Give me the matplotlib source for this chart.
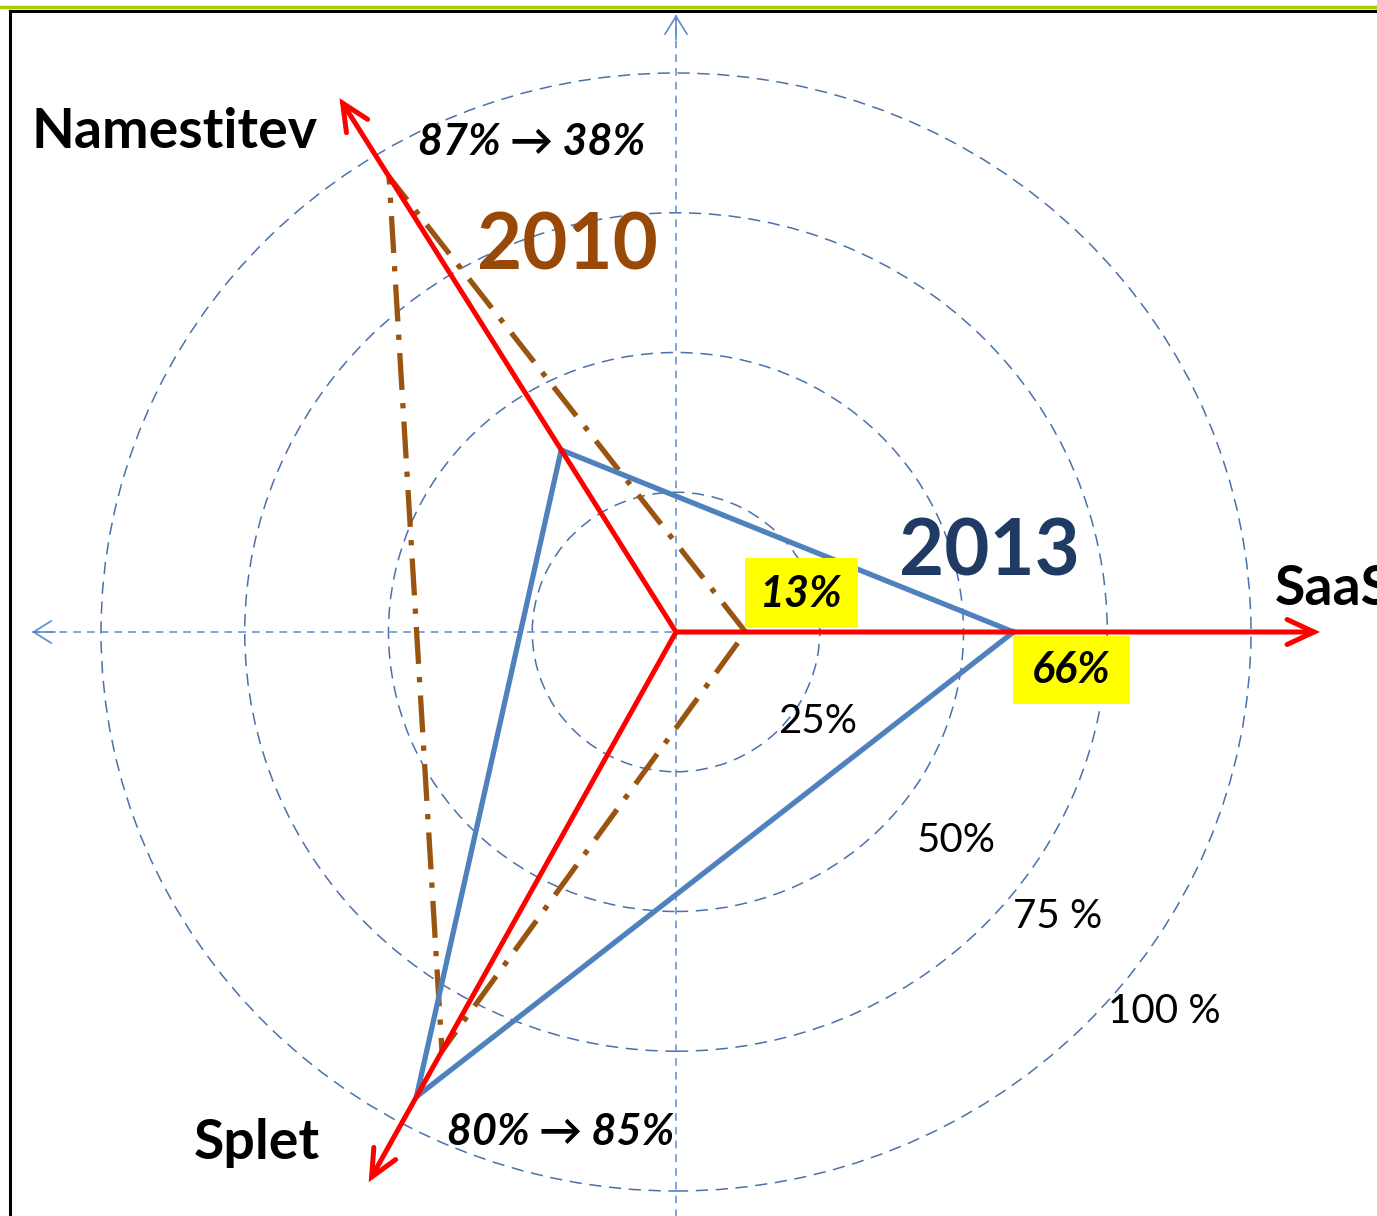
import numpy as np
import matplotlib.pyplot as plt
from matplotlib.patches import Circle, Rectangle, FancyArrowPatch
from matplotlib.lines import Line2D
from matplotlib.transforms import Affine2D

# Podatki
axis_names = ["SaaS", "Namestitev", "Splet"]
axis_angles = [0, 121.5, 241.5]        # stopinje
axis_length = 112                     # v % (konec rdece puscice)
ring_values = [25, 50, 75, 100]
ring_labels = ["25%", "50%", "75 %", "100 %"]
values_2010 = [12.1, 95.5, 85.3]      # SaaS, Namestitev, Splet
values_2013 = [58.7, 38.2, 94.6]
change_labels = ["87% \u2192 38%", "80% \u2192 85%"]
saas_labels = ["13%", "66%"]

W, H = 1377, 1216
fig = plt.figure(figsize=(W / 100, H / 100), dpi=100)
ax = fig.add_axes([0, 0, 1, 1])
# 1 % = 5.75 px vodoravno, 5.59 px navpicno, sredisce na (676, 632)
ax.set_xlim(-676 / 5.75, (W - 676) / 5.75)
ax.set_ylim(-(H - 632) / 5.59, 632 / 5.59)
ax.axis("off")

# pretvorba iz pikslov (od zgoraj levo)
pix = Affine2D().scale(1 / 100, -1 / 100).translate(0, H / 100) + fig.dpi_scale_trans

fnt = ["Lato", "DejaVu Sans"]


def polar(r, a):
    a = np.radians(a)
    return r * np.cos(a), r * np.sin(a)


# okvir
fig.add_artist(Line2D([0, W], [7, 7], transform=pix, color="#a8cc00", lw=2.5))
fig.add_artist(Line2D([10, W], [11, 11], transform=pix, color="black", lw=2.2))
fig.add_artist(Line2D([10, 10], [11, H], transform=pix, color="black", lw=2.2))

# krogi
for r in ring_values:
    ax.add_patch(Circle((0, 0), r, fill=False, ec="#4a72a8", lw=1.1,
                        ls=(0, (8, 5)), zorder=1))

# modre crtkane osi
ac = "#5b8bd0"
ax.plot([-112, 112], [0, 0], color=ac, lw=1.1, ls=(0, (5, 4)), zorder=1)
ax.plot([0, 0], [-112, 110.4], color=ac, lw=1.1, ls=(0, (5, 4)), zorder=1)
for tip, tail in [((-112, 0), (-108, 0)), ((0, 110.4), (0, 106))]:
    ax.annotate("", xy=tip, xytext=tail,
                arrowprops=dict(arrowstyle="->,head_length=0.8,head_width=0.5",
                                color=ac, lw=1.2, mutation_scale=16,
                                shrinkA=0, shrinkB=0), zorder=1)

# 2010 (crta-pika)
pts = [polar(v, a) for v, a in zip(values_2010, axis_angles)]
pts.append(pts[0])
ax.plot([p[0] for p in pts], [p[1] for p in pts], color="#99540f", lw=3.8,
        ls=(0, (7, 2.5, 1, 2.5)), solid_joinstyle="miter", zorder=2)

# 2013
pts = [polar(v, a) for v, a in zip(values_2013, axis_angles)]
pts.append(pts[0])
ax.plot([p[0] for p in pts], [p[1] for p in pts], color="#4f81bd", lw=3.8,
        solid_joinstyle="miter", zorder=3)

# rdece osi
for a in axis_angles:
    ax.add_patch(FancyArrowPatch((0, 0), polar(axis_length, a),
                                 arrowstyle="->,head_length=0.97,head_width=0.45",
                                 mutation_scale=20, color="red", lw=3.6,
                                 shrinkA=0, shrinkB=0, joinstyle="miter",
                                 capstyle="round", zorder=4))

# imena osi
big = dict(fontsize=40, fontweight="bold", color="black", family=fnt,
           transform=pix, zorder=6)
ax.text(174, 148, axis_names[1], ha="center", va="baseline", **big)
ax.text(1275, 605, axis_names[0], ha="left", va="baseline", **big)
ax.text(257, 1159, axis_names[2], ha="center", va="baseline", **big)

# leti
ax.text(567, 270, "2010", ha="center", va="baseline", fontsize=56,
        fontweight="bold", color="#984807", family=fnt, transform=pix, zorder=6)
ax.text(989, 575, "2013", ha="center", va="baseline", fontsize=56,
        fontweight="bold", color="#1f3b63", family=fnt, transform=pix, zorder=6)

# spremembe
it = dict(fontsize=31, fontweight="bold", fontstyle="italic", color="black",
          family=fnt, transform=pix, zorder=6)
ax.text(532, 155, change_labels[0], ha="center", va="baseline", **it)
ax.text(561, 1145, change_labels[1], ha="center", va="baseline", **it)

# rumene oznake
for (x0, y0, x1, y1), lab in zip([(745, 558, 858, 628), (1013, 636, 1130, 704)],
                                 saas_labels):
    ax.add_patch(Rectangle((x0, y0), x1 - x0, y1 - y0, transform=pix,
                           fc="yellow", ec="none", zorder=5))
    ax.text((x0 + x1) / 2, y1 - 21, lab, ha="center", va="baseline", **it)

# oznake krogov
for (x, y), lab in zip([(778, 733), (917, 852), (1013, 928), (1108, 1023)],
                       ring_labels):
    ax.text(x, y, lab, ha="left", va="baseline", fontsize=29, color="black",
            family=fnt, transform=pix, zorder=6)

fig.savefig("out.png", dpi=100)
